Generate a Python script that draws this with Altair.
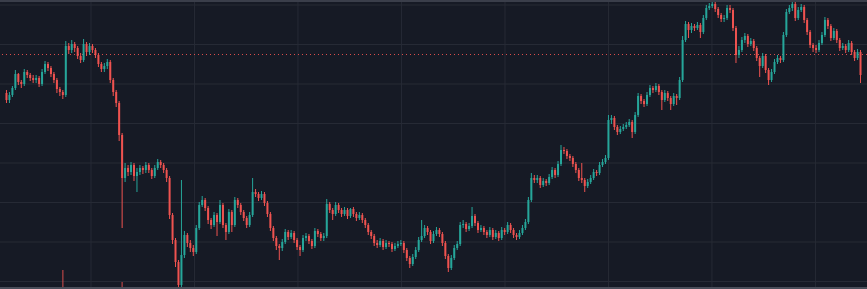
import altair as alt
import pandas as pd

# ---- data (price units) ----
open_first = 196
close = [189,194,201,215,207,205,217,214,211,209,
         211,205,217,225,221,215,209,200,197,194,
         243,239,245,241,233,229,245,237,243,239,
         234,225,220,223,227,209,197,186,154,111,
         121,117,124,113,117,121,119,124,119,113,
         121,127,124,119,111,74,49,27,4,34,
         54,46,41,37,61,84,89,81,69,64,
         74,67,84,64,57,77,64,89,84,77,
         71,64,74,97,95,91,95,86,75,61,
         51,43,41,47,57,52,56,49,42,39,
         51,53,48,43,58,55,51,53,85,79,
         75,84,79,75,79,73,80,75,71,74,
         69,64,57,53,46,44,48,42,46,45,
         40,43,45,46,39,31,25,32,39,49,
         53,61,57,48,55,59,55,46,33,21,
         31,41,45,64,65,60,63,73,66,59,
         61,57,54,59,52,56,51,59,57,64,
         59,54,52,56,61,67,89,111,109,111,
         104,108,106,112,119,114,125,139,138,133,
         131,125,119,111,109,103,107,111,117,116,
         124,127,131,169,171,162,157,160,162,164,
         167,157,174,193,188,185,194,201,199,203,
         197,189,196,191,185,193,191,209,249,265,
         259,263,261,264,257,271,281,283,285,280,
         274,270,271,281,279,261,234,239,249,253,
         245,248,241,231,223,233,219,209,217,227,
         231,229,254,277,281,285,271,279,282,269,
         257,244,241,239,246,254,269,263,251,258,
         249,241,243,239,246,237,231,237,214]
high = [199,197,203,219,216,209,220,219,216,214,
        214,213,220,228,227,223,217,211,202,199,
        248,246,249,247,243,236,250,247,246,245,
        241,236,227,226,230,229,211,199,188,156,
        126,124,127,126,121,124,123,127,126,121,
        124,130,129,126,121,113,76,51,29,109,
        58,56,49,44,64,87,93,91,83,71,
        77,76,89,86,66,80,79,92,91,86,
        79,73,77,111,100,97,98,97,88,77,
        63,53,45,50,60,59,59,58,51,44,
        54,56,55,50,61,60,57,56,90,87,
        81,87,86,81,82,81,81,82,77,77,
        76,71,66,59,55,49,51,50,49,48,
        47,46,48,49,48,41,33,35,42,52,
        69,64,63,59,58,62,61,57,48,35,
        34,44,48,67,69,67,66,82,75,68,
        64,63,59,62,61,59,58,62,61,67,
        66,61,56,59,64,70,92,116,114,114,
        113,111,110,115,122,121,128,144,142,140,
        135,133,127,121,126,111,110,114,120,119,
        127,130,134,174,174,173,164,163,165,167,
        170,169,177,196,195,190,197,204,203,206,
        205,199,199,198,193,196,195,212,253,268,
        267,266,265,267,266,274,284,286,288,287,
        282,276,274,284,284,281,263,243,252,256,
        255,251,250,243,233,236,235,221,220,230,
        234,233,257,280,284,288,287,282,285,284,
        271,259,246,244,249,257,272,271,265,261,
        260,251,246,245,249,248,239,240,239]
low = [186,186,192,199,204,201,203,211,208,206,
       206,202,203,215,218,212,206,196,193,190,
       192,235,236,237,230,226,227,233,234,236,
       231,222,217,217,220,206,193,182,148,61,
       107,113,114,108,97,114,115,116,116,110,
       111,119,121,116,107,70,45,22,-8,2,
       31,42,37,33,35,59,82,78,65,60,
       62,53,65,61,49,55,57,62,81,74,
       68,61,62,72,92,88,89,83,72,58,
       48,39,29,38,45,49,50,46,39,33,
       37,48,45,40,41,52,48,48,51,76,
       69,73,76,72,73,70,71,72,68,69,
       66,61,54,50,43,41,42,39,40,42,
       37,38,41,43,36,28,21,23,30,37,
       47,51,54,45,46,53,52,43,30,17,
       19,29,39,43,61,57,58,61,63,56,
       57,54,51,52,49,50,48,49,54,55,
       56,51,49,50,54,59,65,87,106,106,
       101,102,103,104,110,111,112,123,135,130,
       128,122,116,108,106,97,101,105,109,113,
       114,122,125,129,165,159,154,155,158,160,
       162,151,155,172,185,182,183,192,196,197,
       194,179,187,188,179,183,184,189,207,247,
       251,256,258,259,251,255,269,279,281,277,
       271,267,267,269,276,258,226,231,237,246,
       242,243,238,228,212,221,216,204,207,215,
       225,226,227,252,275,278,268,269,277,266,
       254,241,237,236,237,244,252,260,248,249,
       246,238,239,236,237,234,228,229,206]

grid_t = [28.5, 63.4, 98.3, 133.2, 168.1, 203.0, 237.9, 272.8]
grid_price = [7.5, 47, 86.5, 126, 165.5, 205, 244.5, 284]
ref_price = [234.5]
vol_t = [19, 39]
vol = [330, 120]

# ---- build ----
n = len(close)
opens = [open_first] + close[:-1]
df = pd.DataFrame({"t": list(range(n)), "open": opens, "close": close,
                   "high": high, "low": low})
df["dir"] = ["up" if c >= o else "down" for o, c in zip(opens, close)]

UP = "#26a69a"
DOWN = "#ef5350"
BG = "#161a25"
GRID = "#262a35"

xs = alt.Scale(domain=[-0.5, n - 0.5], nice=False, zero=False)
ys = alt.Scale(domain=[0, 289], nice=False, zero=False)
col = alt.Color("dir:N", scale=alt.Scale(domain=["up", "down"], range=[UP, DOWN]), legend=None)

vgrid = alt.Chart(pd.DataFrame({"t": grid_t})).mark_rule(color=GRID, strokeWidth=1).encode(
    x=alt.X("t:Q", scale=xs, axis=None))
hgrid = alt.Chart(pd.DataFrame({"p": grid_price})).mark_rule(color=GRID, strokeWidth=1).encode(
    y=alt.Y("p:Q", scale=ys, axis=None))
refline = alt.Chart(pd.DataFrame({"p": ref_price})).mark_rule(
    color=DOWN, strokeDash=[1, 3], strokeWidth=1, opacity=0.9).encode(
    y=alt.Y("p:Q", scale=ys, axis=None))

wicks = alt.Chart(df).mark_rule(strokeWidth=1, clip=True).encode(
    x=alt.X("t:Q", scale=xs, axis=None),
    y=alt.Y("low:Q", scale=ys, axis=None), y2="high:Q", color=col)
bodies = alt.Chart(df).mark_bar(size=2, clip=True).encode(
    x=alt.X("t:Q", scale=xs, axis=None),
    y=alt.Y("open:Q", scale=ys, axis=None), y2="close:Q", color=col)

volume = alt.Chart(pd.DataFrame({"t": vol_t, "v": vol})).mark_bar(
    size=1.5, color=DOWN, opacity=0.6).encode(
    x=alt.X("t:Q", scale=xs, axis=None),
    y=alt.Y("v:Q", scale=alt.Scale(domain=[0, 5000], nice=False), axis=None))

one = pd.DataFrame({"a": [0]})
top_border = alt.Chart(one).mark_rule(color="#3a3e4a", strokeWidth=2).encode(
    y=alt.value(1), x=alt.value(0), x2=alt.value(867))
bottom_border = alt.Chart(one).mark_rule(color="#4a4e5a", strokeWidth=2).encode(
    y=alt.value(288), x=alt.value(0), x2=alt.value(867))

chart = alt.layer(vgrid, hgrid, refline, volume, wicks, bodies, top_border, bottom_border).resolve_scale(
    y="independent").properties(
    width=867, height=289, autosize=alt.AutoSizeParams(type="none"), padding=0,
    background=BG
).configure_view(strokeWidth=0)

chart.save("out.html", embed_options={"renderer": "svg", "actions": False})
